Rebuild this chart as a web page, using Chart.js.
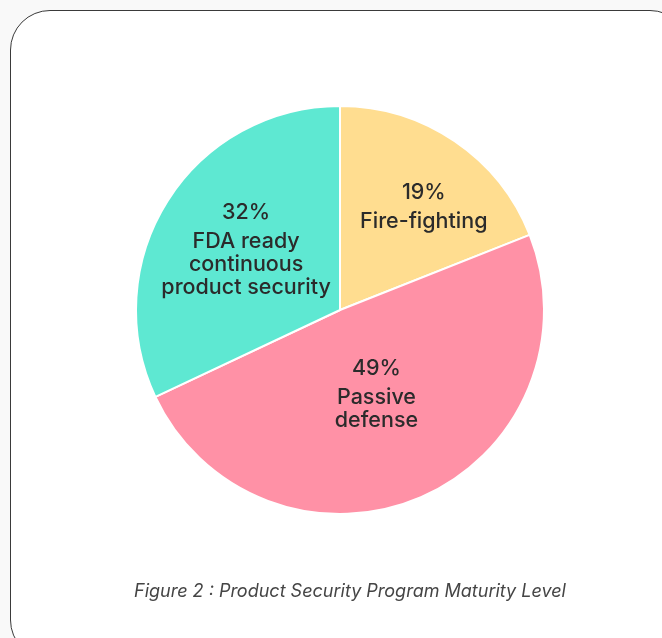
<!DOCTYPE html>
<html>
<head>
<meta charset="utf-8">
<script src="https://cdn.jsdelivr.net/npm/chart.js@4.4.1/dist/chart.umd.min.js"></script>
<style>
  html, body { margin: 0; padding: 0; background: #f9f9f9; }
  body { width: 662px; height: 638px; position: relative; overflow: hidden; }
  .card {
    position: absolute; left: 10px; top: 10px; width: 680px; height: 650px;
    background: #fff; border: 1.5px solid #3a3a3a; border-radius: 40px; box-sizing: border-box;
  }
  #maturity { position: absolute; left: 0; top: 0; }
  .caption {
    position: absolute; left: 134px; top: 580px; white-space: nowrap;
    font-family: Inter, "Noto Sans", sans-serif; font-style: italic; font-size: 18px;
    color: #454545;
  }
</style>
</head>
<body>
<div class="card"></div>
<canvas id="maturity" width="662" height="638"></canvas>
<div class="caption">Figure 2 : Product Security Program Maturity Level</div>
<script>
// maturity levels, clockwise from 12 o'clock
const levels = [["Fire-fighting"], ["Passive", "defense"], ["FDA ready", "continuous", "product security"]];
const shares = [19, 49, 32];
const sliceColors = ["#ffdd90", "#ff91a6", "#5ee8d2"];

// where each label block sits: fraction of the radius, and a small turn (degrees)
const labelRadius = [0.65, 0.45, 0.545];
const labelTurn = [5, 0, 0];

const sliceLabels = {
  id: "sliceLabels",
  afterDatasetsDraw(chart) {
    const ctx = chart.ctx;
    const arcs = chart.getDatasetMeta(0).data;
    ctx.save();
    ctx.fillStyle = "#2b2b2b";
    ctx.textAlign = "center";
    ctx.textBaseline = "middle";
    ctx.font = "500 21.5px Inter, 'Noto Sans', sans-serif";
    arcs.forEach((arc, i) => {
      const mid = (arc.startAngle + arc.endAngle) / 2 + labelTurn[i] * Math.PI / 180;
      const r = arc.outerRadius * labelRadius[i];
      const cx = arc.x + Math.cos(mid) * r;
      const cy = arc.y + Math.sin(mid) * r;
      const lines = [shares[i] + "%"].concat(levels[i]);
      const lh = 23;
      const top = cy - (lines.length - 1) * lh / 2 - 3;
      lines.forEach((ln, k) => {
        ctx.fillText(ln, cx, top + k * lh + (k > 0 ? 6 : 0));
      });
    });
    ctx.restore();
  }
};

new Chart(document.getElementById("maturity"), {
  type: "pie",
  data: {
    labels: levels.map(l => l.join(" ")),
    datasets: [{
      data: shares,
      backgroundColor: sliceColors,
      borderColor: "#ffffff",
      borderWidth: 2
    }]
  },
  options: {
    responsive: false,
    animation: false,
    layout: { padding: { left: 135, top: 105, right: 117, bottom: 123 } },
    plugins: {
      legend: { display: false },
      tooltip: { enabled: false }
    }
  },
  plugins: [sliceLabels]
});
</script>
</body>
</html>
